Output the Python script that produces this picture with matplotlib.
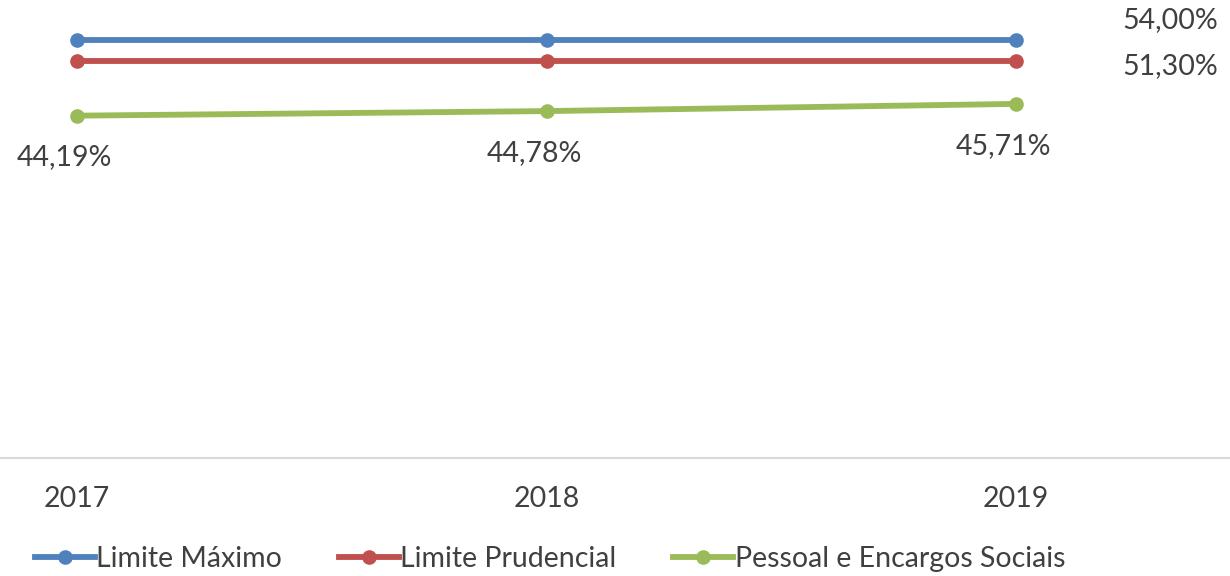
import numpy as np
import matplotlib.pyplot as plt

plt.rcParams['font.family'] = ['Lato', 'DejaVu Sans']

# ----------------------------
# Data
# ----------------------------
years = ["2017", "2018", "2019"]
limite_maximo = [54.00, 54.00, 54.00]
limite_prudencial = [51.30, 51.30, 51.30]
pessoal = [44.19, 44.78, 45.71]

blue = "#4F81BD"
red = "#C0504D"
green = "#9BBB59"
txt = "#404040"
fs = 20.5


def fmt(v):
    return f"{v:.2f}".replace(".", ",") + "%"


# ----------------------------
# Plot
# ----------------------------
fig = plt.figure(figsize=(12.3, 5.76), dpi=100)
ax = fig.add_axes([0, 1 - 458 / 576, 1, 458 / 576])

x = np.arange(len(years))
ax.plot(x, limite_maximo, color=blue, lw=4.2, marker="o", ms=9.5, label="Limite Máximo")
ax.plot(x, limite_prudencial, color=red, lw=4.2, marker="o", ms=9.5, label="Limite Prudencial")
ax.plot(x, pessoal, color=green, lw=4.2, marker="o", ms=9.5, label="Pessoal e Encargos Sociais")

# data labels
ax.annotate(fmt(limite_maximo[-1]), (x[-1], limite_maximo[-1]), xytext=(111, 14),
            textcoords="offset points", ha="center", va="center", fontsize=fs, color=txt)
ax.annotate(fmt(limite_prudencial[-1]), (x[-1], limite_prudencial[-1]), xytext=(111, -4),
            textcoords="offset points", ha="center", va="center", fontsize=fs, color=txt)
for xi, v in zip(x, pessoal):
    ax.annotate(fmt(v), (xi, v), xytext=(-9, -30), textcoords="offset points",
                ha="center", va="center", fontsize=fs, color=txt)

ax.set_xlim(-77 / 469.5, 2 + (1230 - 1016) / 469.5)
ax.set_ylim(0, 458 / 7.747)
ax.set_xticks(x)
ax.set_xticklabels(years, fontsize=fs, color=txt)
ax.tick_params(axis="x", length=0, pad=20)
ax.set_yticks([])
for s in ["top", "left", "right"]:
    ax.spines[s].set_visible(False)
ax.spines["bottom"].set_color("#D9D9D9")
ax.spines["bottom"].set_linewidth(1.5)

fig.legend(loc="center", bbox_to_anchor=(550 / 1230, 1 - 559 / 576), ncol=3,
           frameon=False, fontsize=fs, handlelength=2.1, handletextpad=0.05,
           columnspacing=2.0, labelcolor=txt)

fig.savefig("out.png", dpi=100)
